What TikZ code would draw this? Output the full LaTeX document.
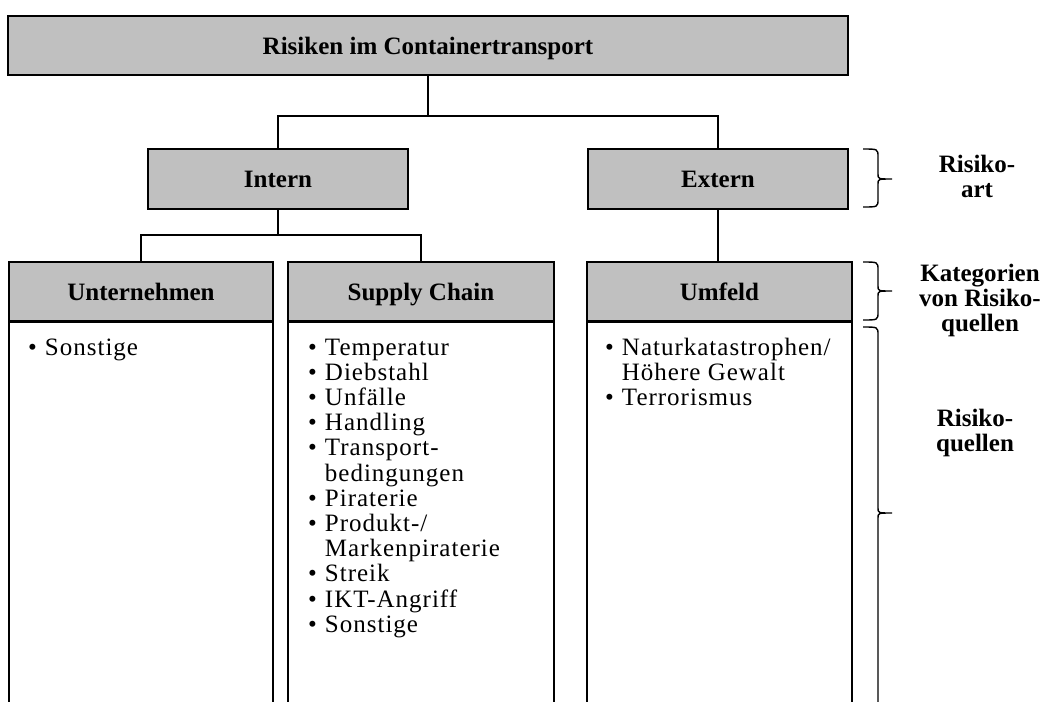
\documentclass[tikz,border=0pt]{standalone}
\usepackage{fontspec}
\setmainfont{Liberation Serif}
\newfontfamily\listfont[LetterSpace=4]{Liberation Serif}
\definecolor{boxgray}{RGB}{192,192,192}
% side brace: #1 upper end, #2 tip, #3 lower end (y grows downwards)
\newcommand{\sidebrace}[3]{%
  \draw[bracket] (863,#1) .. controls (878,#1) .. (878,#1+8)
    -- (878,#2-5) .. controls (878,#2) .. (892,#2)
    .. controls (878,#2) .. (878,#2+5)
    -- (878,#3-8) .. controls (878,#3) .. (863,#3);}
\newcommand{\itemlist}[1]{%
  \listfont\fontsize{25}{25.2}\selectfont
  \begin{tabular}[t]{@{}l@{\hspace{8pt}}l@{}}#1\end{tabular}}
\begin{document}
\begin{tikzpicture}[x=1pt,y=-1pt,
  head/.style={draw=black, fill=boxgray, line width=1.9pt, inner sep=0,
    text height=17pt, text depth=0pt,
    font=\bfseries\fontsize{25}{25}\selectfont},
  body/.style={draw=black, line width=1.9pt, inner sep=0, anchor=north},
  link/.style={line width=1.9pt},
  bracket/.style={line width=1.4pt},
  list/.style={inner sep=0, anchor=base west},
  side/.style={inner sep=0, align=center,
    font=\bfseries\fontsize{25}{25}\selectfont}]
\useasboundingbox (0,0) rectangle (1045,702);
\clip (0,0) rectangle (1045,702);

% top level
\node[head, minimum width=840, minimum height=59] (top) at (428,45.5)
  {Risiken im Containertransport};

% kind of risk
\node[head, minimum width=260, minimum height=60] (intern) at (278,179) {Intern};
\node[head, minimum width=260, minimum height=60] (extern) at (718,179) {Extern};

% column bodies
\node[body, minimum width=264, minimum height=420] (bodyU) at (141,321) {};
\node[body, minimum width=266, minimum height=420] (bodyS) at (421,321) {};
\node[body, minimum width=265, minimum height=420] (bodyE) at (719.5,321) {};

% categories of risk sources
\node[head, minimum width=264, minimum height=59] (headU) at (141,291.5) {Unternehmen};
\node[head, minimum width=266, minimum height=59] (headS) at (421,291.5) {Supply Chain};
\node[head, minimum width=265, minimum height=59] (headE) at (719.5,291.5) {Umfeld};

% connectors
\coordinate (split1) at (428,116);
\coordinate (split2) at (278,235);
\draw[link] (top.south) -- (split1);
\draw[link] (intern.north) |- (split1) -| (extern.north);
\draw[link] (intern.south) -- (split2);
\draw[link] (headU.north) |- (split2) -| (headS.north);
\draw[link] (extern.south) -- (extern.south |- headE.north);

% risk sources
\node[list] (listU) at (28,355) {\itemlist{\textbullet & Sonstige}};
\node[list] (listS) at (308,355) {\itemlist{%
  \textbullet & Temperatur\\
  \textbullet & Diebstahl\\
  \textbullet & Unfälle\\
  \textbullet & Handling\\
  \textbullet & Transport-\\
              & bedingungen\\
  \textbullet & Piraterie\\
  \textbullet & Produkt-/\\
              & Markenpiraterie\\
  \textbullet & Streik\\
  \textbullet & IKT-Angriff\\
  \textbullet & Sonstige}};
\node[list] (listE) at (605,355) {\itemlist{%
  \textbullet & Naturkatastrophen/\\
              & Höhere Gewalt\\
  \textbullet & Terrorismus}};

% side braces and their labels
\sidebrace{149}{179}{207}
\sidebrace{262}{291}{320}
\sidebrace{327}{513}{712}
\node[side] (lart) at (977,176) {Risiko-\\art};
\node[side] (lkat) at (980,300) {Kategorien\\von Risiko-\\quellen};
\node[side] (lquel) at (975,433) {Risiko-\\quellen};
\end{tikzpicture}
\end{document}
